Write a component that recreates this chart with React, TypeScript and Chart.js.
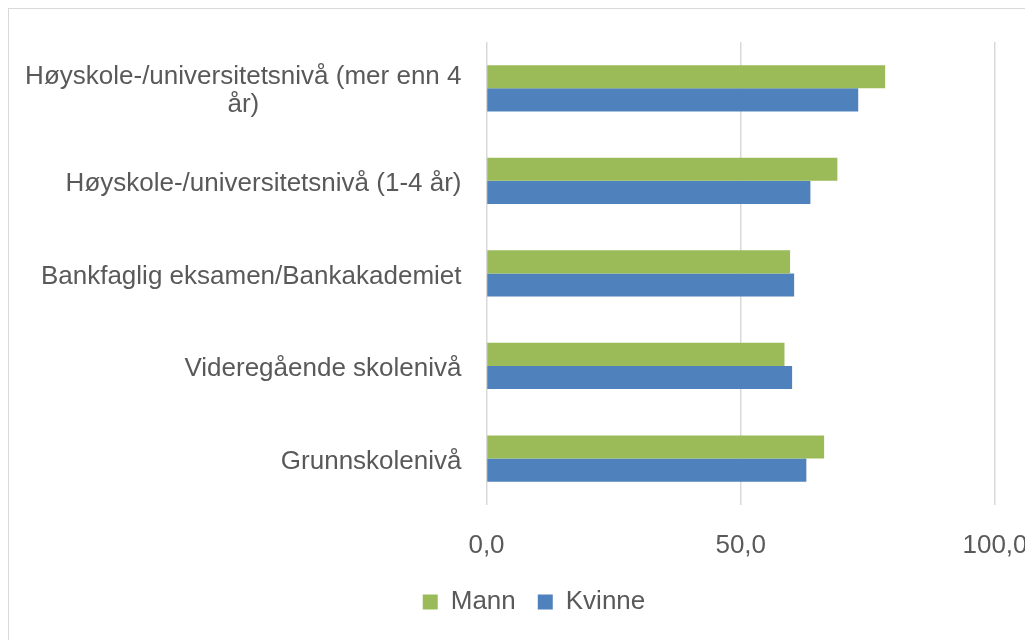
import React, { useEffect, useRef } from "react";
import { Chart, registerables } from "chart.js";

Chart.register(...registerables);

const categories: string[][] = [
  ["Høyskole-/universitetsnivå (mer enn 4", "år)"],
  ["Høyskole-/universitetsnivå (1-4 år)"],
  ["Bankfaglig eksamen/Bankakademiet"],
  ["Videregående skolenivå"],
  ["Grunnskolenivå"],
];
const mannValues = [78.4, 69.0, 59.7, 58.6, 66.4];
const kvinneValues = [73.1, 63.7, 60.5, 60.1, 62.9];
const seriesNames = ["Mann", "Kvinne"];
const xMin = 0;
const xMax = 100;
const xStep = 50;

const FONT = '"Liberation Sans", Arial, Helvetica, sans-serif';
const TEXT = "#595959";
const FS = 26;

const yLabelPlugin = {
  id: "yLabelPlugin",
  afterDraw(chart: any) {
    const ys = chart.scales.y;
    const ctx = chart.ctx;
    ctx.save();
    ctx.font = `${FS}px ${FONT}`;
    ctx.fillStyle = TEXT;
    ctx.textBaseline = "middle";
    const rightX = chart.chartArea.left - 25;
    const lineH = 28;
    categories.forEach((lines, i) => {
      const cy = ys.getPixelForValue(i) + 3;
      const widths = lines.map((l) => ctx.measureText(l).width);
      const boxW = Math.max(...widths);
      const startY = cy - ((lines.length - 1) * lineH) / 2;
      lines.forEach((l, j) => {
        if (lines.length > 1) {
          ctx.textAlign = "center";
          ctx.fillText(l, rightX - boxW / 2, startY + j * lineH);
        } else {
          ctx.textAlign = "right";
          ctx.fillText(l, rightX, startY + j * lineH);
        }
      });
    });
    ctx.restore();
  },
};

export default function App() {
  const ref = useRef<HTMLCanvasElement | null>(null);
  useEffect(() => {
    if (!ref.current) return;
    const chart = new Chart(ref.current, {
      type: "bar",
      data: {
        labels: categories,
        datasets: [
          {
            label: seriesNames[0],
            data: mannValues,
            backgroundColor: "#9BBB59",
            categoryPercentage: 0.5,
            barPercentage: 1.0,
          },
          {
            label: seriesNames[1],
            data: kvinneValues,
            backgroundColor: "#4F81BD",
            categoryPercentage: 0.5,
            barPercentage: 1.0,
          },
        ],
      },
      options: {
        indexAxis: "y",
        animation: false,
        responsive: false,
        maintainAspectRatio: false,
        layout: { padding: { top: 33, right: 64, left: 64, bottom: 15 } },
        scales: {
          x: {
            min: xMin,
            max: xMax,
            ticks: {
              stepSize: xStep,
              color: TEXT,
              font: { family: FONT, size: FS },
              padding: 25,
              callback: (v: any) => Number(v).toFixed(1).replace(".", ","),
            },
            grid: { color: "#d9d9d9", lineWidth: 1.5, drawTicks: false },
            border: { display: false },
            afterFit: (s: any) => {
              s.height = s.height - 19;
            },
          },
          y: {
            ticks: { display: false },
            grid: { display: false },
            border: { display: false },
            afterFit: (s: any) => {
              s.width = 477.5 - 64;
            },
          },
        },
        plugins: {
          legend: {
            position: "bottom",
            labels: {
              color: TEXT,
              font: { family: FONT, size: FS },
              boxWidth: 15,
              boxHeight: 15,
              padding: 22,
            },
          },
          tooltip: { enabled: false },
        },
      },
      plugins: [yLabelPlugin],
    });
    return () => chart.destroy();
  }, []);
  return (
    <div
      style={{
        width: 1024,
        height: 631,
        overflow: "hidden",
        borderTop: "1px solid #d9d9d9",
        borderLeft: "1px solid #d9d9d9",
        background: "#fff",
      }}
    >
      <canvas ref={ref} width={1050} height={631} style={{ display: "block" }} />
    </div>
  );
}
